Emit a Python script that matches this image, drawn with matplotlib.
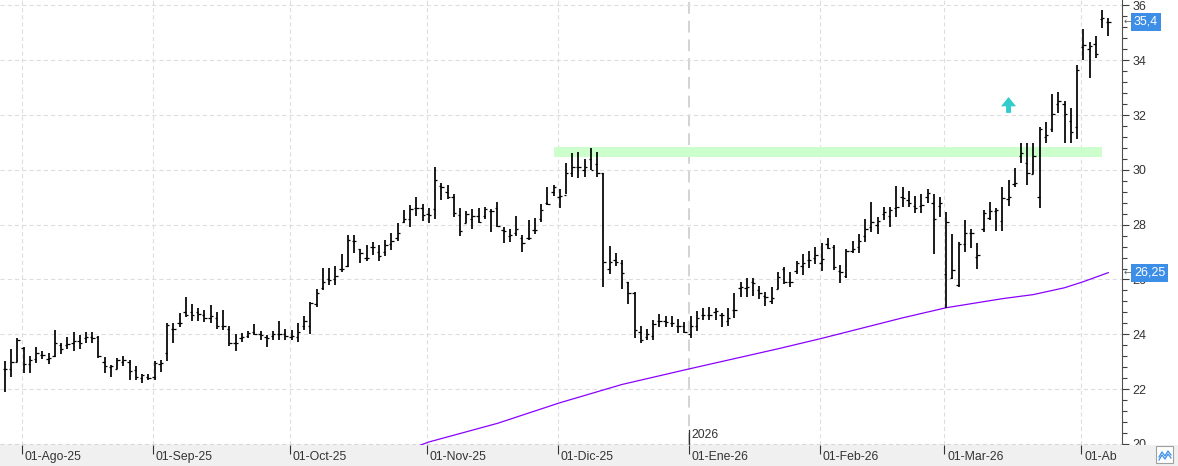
import numpy as np
import matplotlib.pyplot as plt
import matplotlib.transforms as mtransforms
from matplotlib.patches import Rectangle
from matplotlib.lines import Line2D

plt.rcParams['font.family'] = ['Liberation Sans', 'DejaVu Sans']
plt.rcParams['lines.scale_dashes'] = False

# %% Daten (OHLC, taeglich)
opens = [22.72, 22.72, 23.00, 23.50, 22.90, 23.10, 23.25, 23.10, 23.20, 23.60,
         23.60, 23.70, 23.75, 23.85, 23.90, 23.90, 23.00, 22.80, 22.75, 23.00,
         23.00, 22.70, 22.40, 22.45, 22.45, 22.90, 23.30, 24.20, 24.40, 24.80,
         24.80, 24.80, 24.70, 24.60, 24.60, 24.30, 24.20, 23.70, 23.85, 23.95,
         24.10, 24.00, 23.90, 23.95, 24.00, 24.00, 23.90, 23.90, 24.30, 24.30,
         25.10, 25.70, 26.00, 26.00, 26.40, 26.50, 27.40, 27.10, 26.80, 27.20,
         27.00, 27.00, 27.30, 27.50, 28.10, 28.20, 28.60, 28.60, 28.40, 28.56,
         29.40, 29.20, 29.00, 28.35, 28.07, 28.20, 28.30, 28.30, 28.50, 28.60,
         27.80, 27.60, 27.70, 27.50, 27.50, 27.80, 28.20, 28.80, 29.20, 29.00,
         29.10, 29.90, 30.10, 30.00, 30.40, 30.20, 29.87, 26.40, 26.70, 26.60,
         25.90, 25.50, 24.10, 23.90, 23.95, 24.50, 24.50, 24.40, 24.30, 24.30,
         24.00, 24.30, 24.70, 24.70, 24.80, 24.70, 24.50, 24.90, 25.70, 25.70,
         25.90, 25.60, 25.40, 25.20, 25.64, 26.40, 25.90, 26.30, 26.50, 26.70,
         26.80, 26.60, 27.30, 27.20, 26.30, 26.13, 27.05, 27.20, 27.60, 27.90,
         28.00, 28.40, 28.30, 28.60, 29.00, 28.90, 28.70, 28.70, 29.00, 28.78,
         28.70, 26.20, 26.05, 25.80, 27.30, 27.68, 26.83, 27.83, 28.23, 28.50,
         28.15, 28.92, 29.50, 30.50, 30.24, 29.85, 29.00, 31.20, 31.50, 32.40,
         32.40, 31.80, 31.55, 34.50, 34.40, 34.60, 35.50, 35.40]
highs = [23.04, 23.45, 23.85, 23.55, 23.20, 23.52, 23.40, 23.33, 24.15, 23.70,
         23.90, 24.07, 23.97, 24.07, 24.07, 23.94, 23.16, 22.88, 23.12, 23.20,
         23.06, 22.84, 22.55, 22.55, 23.04, 23.06, 24.42, 24.40, 24.76, 25.37,
         25.10, 24.95, 24.90, 25.07, 24.82, 24.88, 24.30, 24.00, 24.03, 24.13,
         24.37, 24.13, 23.97, 24.13, 24.50, 24.18, 24.15, 24.42, 24.67, 25.17,
         25.67, 26.41, 26.41, 26.50, 26.93, 27.63, 27.63, 27.10, 27.26, 27.38,
         27.26, 27.44, 27.69, 28.05, 28.54, 28.72, 29.00, 28.74, 28.60, 30.09,
         29.51, 29.45, 29.12, 28.60, 28.51, 28.56, 28.60, 28.63, 28.56, 28.84,
         27.90, 27.83, 28.32, 27.62, 28.17, 28.23, 28.75, 29.39, 29.45, 29.29,
         30.26, 30.60, 30.66, 30.38, 30.79, 30.66, 29.90, 27.22, 26.98, 26.71,
         25.92, 25.55, 24.30, 24.18, 24.52, 24.74, 24.67, 24.67, 24.55, 24.46,
         24.67, 24.86, 24.95, 24.98, 24.95, 24.79, 24.95, 25.52, 25.92, 26.04,
         26.04, 25.76, 25.55, 25.74, 26.28, 26.47, 26.28, 26.69, 26.93, 27.05,
         27.17, 27.34, 27.50, 27.26, 26.53, 27.10, 27.42, 27.66, 28.20, 28.84,
         28.29, 28.66, 28.63, 29.41, 29.36, 29.24, 29.05, 29.12, 29.29, 29.12,
         29.00, 28.46, 27.66, 27.38, 28.17, 27.83, 27.34, 28.53, 28.84, 28.60,
         29.39, 29.63, 30.06, 30.97, 30.97, 30.99, 31.55, 31.76, 32.76, 32.85,
         32.53, 32.25, 33.83, 35.13, 34.68, 34.89, 35.83, 35.53]
lows = [21.90, 22.45, 23.00, 22.60, 22.60, 22.94, 23.10, 22.90, 23.18, 23.27,
        23.45, 23.40, 23.45, 23.70, 23.67, 23.12, 22.60, 22.45, 22.72, 22.84,
        22.35, 22.33, 22.23, 22.33, 22.33, 22.63, 23.04, 23.69, 24.28, 24.64,
        24.50, 24.50, 24.46, 24.42, 24.18, 24.15, 23.57, 23.40, 23.73, 23.85,
        23.97, 23.79, 23.55, 23.81, 23.81, 23.81, 23.81, 23.73, 24.16, 24.00,
        24.99, 25.62, 25.80, 25.80, 26.29, 26.45, 26.98, 26.60, 26.69, 26.90,
        26.69, 26.84, 27.08, 27.42, 28.05, 27.93, 28.32, 28.15, 28.05, 28.19,
        28.90, 28.92, 28.29, 27.59, 28.05, 27.83, 28.07, 28.20, 27.74, 27.93,
        27.34, 27.38, 27.59, 27.01, 27.44, 27.66, 28.11, 28.72, 29.05, 28.60,
        29.12, 29.75, 29.69, 29.75, 29.99, 29.75, 25.71, 26.20, 26.49, 25.64,
        25.10, 23.85, 23.69, 23.79, 23.79, 24.25, 24.25, 24.25, 24.03, 24.06,
        23.85, 24.13, 24.52, 24.52, 24.52, 24.28, 24.30, 24.58, 25.35, 25.35,
        25.40, 25.27, 25.03, 25.10, 25.64, 25.83, 25.74, 26.20, 26.16, 26.41,
        26.57, 26.32, 27.10, 26.34, 25.88, 26.04, 26.98, 26.95, 27.38, 27.75,
        27.66, 28.17, 27.93, 28.29, 28.63, 28.66, 28.41, 28.44, 28.78, 26.93,
        28.29, 24.95, 26.00, 25.74, 27.00, 27.14, 26.40, 27.74, 28.17, 27.78,
        27.78, 28.70, 29.39, 30.24, 29.45, 29.85, 28.60, 30.97, 31.39, 32.09,
        30.97, 30.99, 31.12, 34.01, 33.34, 34.07, 35.17, 34.89]
closes = [22.72, 23.00, 23.80, 22.90, 23.05, 23.30, 23.25, 23.15, 23.70, 23.45,
          23.65, 23.75, 23.70, 23.90, 23.85, 23.20, 22.85, 22.85, 23.05, 23.05,
          22.65, 22.45, 22.50, 22.42, 22.95, 22.95, 24.34, 24.20, 24.40, 24.70,
          24.70, 24.75, 24.60, 24.65, 24.30, 24.30, 23.70, 23.70, 23.90, 24.05,
          24.00, 23.97, 23.85, 24.00, 24.00, 23.95, 23.95, 24.10, 24.50, 25.15,
          25.50, 25.90, 25.98, 26.13, 26.40, 27.45, 27.42, 26.95, 26.80, 27.20,
          26.86, 27.26, 27.42, 27.70, 28.20, 28.56, 28.60, 28.35, 28.35, 29.63,
          29.39, 29.00, 28.41, 27.78, 28.40, 28.30, 28.10, 28.56, 28.50, 27.95,
          27.78, 27.62, 27.83, 27.34, 27.50, 27.80, 28.54, 28.75, 29.39, 29.05,
          29.87, 30.12, 30.12, 30.12, 30.00, 29.90, 26.65, 26.65, 26.65, 26.22,
          25.52, 24.15, 23.80, 24.00, 24.36, 24.50, 24.45, 24.42, 24.30, 24.10,
          24.30, 24.58, 24.70, 24.70, 24.86, 24.70, 24.58, 24.90, 25.74, 25.74,
          25.86, 25.52, 25.35, 25.31, 26.10, 25.90, 25.90, 26.61, 26.60, 26.71,
          26.90, 26.74, 27.14, 26.44, 26.28, 27.05, 27.10, 27.42, 27.83, 28.11,
          28.15, 28.48, 28.54, 28.66, 28.96, 28.80, 28.60, 28.72, 29.14, 28.20,
          28.80, 28.10, 26.35, 27.30, 27.68, 27.68, 26.90, 28.44, 28.50, 28.53,
          28.96, 29.00, 29.53, 30.63, 29.90, 30.50, 31.50, 31.27, 32.04, 32.53,
          32.04, 31.39, 33.65, 34.56, 34.52, 34.23, 35.53, 35.41]

# Monatsanfang (Index des ersten Handelstages) und Beschriftung
month_first = [3, 24, 46, 68, 89, 110, 131, 151, 173]
month_labels = ["01-Ago-25", "01-Sep-25", "01-Oct-25", "01-Nov-25", "01-Dic-25",
                "01-Ene-26", "01-Feb-26", "01-Mar-26", "01-Ab"]
year_label = "2026"

ma_idx = [66, 68, 79, 89, 99, 110, 124, 131, 144, 151, 160, 165, 170, 173, 177]
ma_val = [19.90, 20.07, 20.75, 21.50, 22.17, 22.75, 23.47, 23.85, 24.60, 24.97,
          25.30, 25.45, 25.70, 25.92, 26.25]

# Widerstandszone
band_start, band_end = 88, 176
band_lo, band_hi = 30.48, 30.84

# Signalpfeil
arrow_idx, arrow_base, arrow_tip = 161, 32.08, 32.66

last_label, last_val = "35,4", 35.41
ma_label, ma_last = "26,25", 26.25

# %% Plot
W, H = 1178, 466
fig = plt.figure(figsize=(W / 100, H / 100), dpi=100)
ax = fig.add_axes([0, 21 / H, 1122 / W, 445 / H])
x0, x1 = -0.8, 179.2
ax.set_xlim(x0, x1)
ax.set_ylim(19.96, 36.2)

idx = np.arange(len(opens))
ax.vlines(idx, lows, highs, color="black", lw=1.25, zorder=3)
ax.hlines(opens, idx - 0.38, idx, color="black", lw=0.9, zorder=3)
ax.hlines(closes, idx, idx + 0.38, color="black", lw=0.9, zorder=3)

ax.plot(ma_idx, ma_val, color="#8a00ff", lw=0.9, zorder=2)
ax.fill_between([band_start, band_end], band_lo, band_hi, color="#ccffcc",
                lw=0, zorder=1)
ax.arrow(arrow_idx, arrow_base, 0, arrow_tip - arrow_base, width=0.8,
         head_width=2.4, head_length=0.34, length_includes_head=True,
         color="#33cccc", lw=0, zorder=4)

# Gitter
month_pos = [m - 0.3 for m in month_first]
jan = month_pos[month_labels.index("01-Ene-26")]
ax.set_yticks(np.arange(20, 37, 2))
ax.set_yticks(np.arange(20, 36.01, 0.4), minor=True)
ax.grid(axis="y", which="major", color="#dddddd", ls=(0, (3, 2.2)), lw=0.8,
        zorder=0)
for p in month_pos:
    if p == jan:
        ax.axvline(p, color="#c8c8c8", ls=(0, (8.5, 5)), lw=1.1, zorder=0)
    else:
        ax.axvline(p, color="#dddddd", ls=(0, (3, 2.2)), lw=0.8, zorder=0)
ax.set_xticks([])

ax.yaxis.tick_right()
ax.tick_params(axis="y", which="major", length=5, width=0.8, color="#404040",
               pad=2.5, labelsize=9, labelcolor="#333333")
ax.tick_params(axis="y", which="minor", length=3.5, width=0.8, color="#404040")
for s in ["left", "top"]:
    ax.spines[s].set_visible(False)
ax.spines["bottom"].set_color("#808080")
ax.spines["right"].set_color("#505050")

# Jahresmarke
xt = ax.get_xaxis_transform()
ax.plot([jan, jan], [0, 15 / 445], transform=xt, color="#333333", lw=0.9,
        clip_on=False, zorder=5)
ax.text(jan, 0.01, year_label, transform=mtransforms.offset_copy(
    xt, fig=fig, x=3, y=0, units="dots"), ha="left", va="bottom",
    fontsize=8.8, color="#333333")

# Kursmarken rechts
yt = ax.get_yaxis_transform()
for val, lab in [(last_val, last_label), (ma_last, ma_label)]:
    ax.annotate(lab, xy=(1, val), xycoords=yt, xytext=(12, 0),
                textcoords="offset pixels", ha="left", va="center",
                fontsize=9, color="white", zorder=10, annotation_clip=False,
                bbox=dict(boxstyle="square,pad=0.25", fc="#3d8ee6", ec="none"))
    ax.annotate("\u2190", xy=(1, val), xycoords=yt, xytext=(2, 0),
                textcoords="offset pixels", ha="left", va="center",
                fontsize=6.5, color="#606060", annotation_clip=False,
                family=["DejaVu Sans"])

# Zeitachse unten
axb = fig.add_axes([0, 0, 1, 21 / H])
axb.set_facecolor("#f0f0f0")
axb.set_xlim(x0, x0 + (x1 - x0) * W / 1122)
axb.set_ylim(0, 1)
for s in axb.spines.values():
    s.set_visible(False)
axb.set_yticks([])
axb.set_xticks(month_pos)
axb.xaxis.tick_top()
axb.tick_params(axis="x", direction="in", length=6.5, width=0.8,
                color="#333333", labeltop=False, labelbottom=False)
bt = mtransforms.offset_copy(axb.get_xaxis_transform(), fig=fig, x=3, y=0,
                             units="dots")
for p, lab in zip(month_pos, month_labels):
    axb.text(p, 0.42, lab, transform=bt, ha="left", va="center", fontsize=8.8,
             color="#333333")

# kleines Symbol unten rechts
fig.add_artist(Rectangle((1156 / W, 3 / H), 17 / W, 17 / H,
                         transform=fig.transFigure, fc="white", ec="#a0a0a0",
                         lw=0.8))
zx = np.array([1159, 1162, 1165, 1168, 1171]) / W
fig.add_artist(Line2D(zx, np.array([9, 14, 10, 15, 11]) / H,
                      transform=fig.transFigure, color="#3d8ee6", lw=0.9))
fig.add_artist(Line2D(zx, np.array([6, 11, 7, 12, 8]) / H,
                      transform=fig.transFigure, color="#3d8ee6", lw=0.9))

fig.savefig("out.png", dpi=100)
